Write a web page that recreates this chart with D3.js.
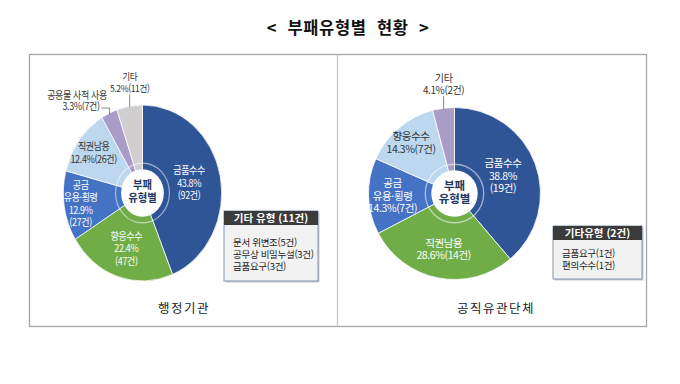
<!DOCTYPE html>
<html lang="ko">
<head>
<meta charset="UTF-8">
<script src="https://cdnjs.cloudflare.com/ajax/libs/d3/7.8.5/d3.min.js"></script>
<title>부패유형별 현황</title>
<style>
    body{
        margin: 0;
        background: #fff;
        font-family: 'Noto Sans CJK KR', 'Noto Sans', sans-serif;
    }
</style>
</head>
<body>
<svg id="chart"></svg>
<script>
// 행정기관
const adminTypes = ['금품수수', '향응수수', '공금 유용·횡령', '직권남용', '공용물 사적 사용', '기타']
const adminCounts = [92, 47, 27, 26, 7, 11]
const adminPcts = ['43.8%', '22.4%', '12.9%', '12.4%', '3.3%', '5.2%']
const adminEtcTitle = '기타 유형 (11건)'
const adminEtc = ['문서 위변조(5건)', '공무상 비밀누설(3건)', '금품요구(3건)']

// 공직유관단체
const publicTypes = ['금품수수', '직권남용', '공금 유용·횡령', '향응수수', '기타']
const publicCounts = [19, 14, 7, 7, 2]
const publicPcts = ['38.8%', '28.6%', '14.3%', '14.3%', '4.1%']
const publicEtcTitle = '기타유형 (2건)'
const publicEtc = ['금품요구(1건)', '편의수수(1건)']

const sliceColors = ['#2f5597', '#70ad47', '#4472c4', '#bdd7ee', '#a99cc9', '#d0cece']

const svg = d3.select('#chart')
    .attr('width', 680)
    .attr('height', 384)

//title
svg.append('text')
    .attr('x', 348)
    .attr('y', 34)
    .attr('text-anchor', 'middle')
    .attr('font-size', 16.5)
    .attr('font-weight', 700)
    .attr('letter-spacing', 0.6)
    .attr('fill', '#111')
    .style('white-space', 'pre')
    .text('<  부패유형별  현황  >')

//frame
svg.append('rect')
    .attr('x', 29.5).attr('y', 54.5)
    .attr('width', 617).attr('height', 272)
    .attr('fill', 'none')
    .attr('stroke', '#a6a6a6')
    .attr('stroke-width', 1.3)
svg.append('line')
    .attr('x1', 337.5).attr('x2', 337.5)
    .attr('y1', 55).attr('y2', 326)
    .attr('stroke', '#c8c8c8')
    .attr('stroke-width', 1.3)

function drawPanel(p) {
    const data = p.types.map((t, i) => ({type: t, count: p.counts[i], pct: p.pcts[i], i: i}))
    const pie = d3.pie().sort(null).value(d => d.count)
    const arcs = pie(data)
    const arc = d3.arc().innerRadius(0).outerRadius(p.r)

    const g = svg.append('g')
        .attr('transform', 'translate(' + p.cx + ',' + p.cy + ') scale(' + p.sx + ',1)')

    g.selectAll('.slice')
        .data(arcs)
        .enter()
        .append('path')
        .attr('class', 'slice')
        .attr('d', arc)
        .attr('fill', d => sliceColors[d.data.i])
        .attr('stroke', '#fff')
        .attr('stroke-width', 0.8)

    //hole in the middle
    g.append('circle')
        .attr('r', p.r * 0.34)
        .attr('fill', 'none')
        .attr('stroke', '#fff')
        .attr('stroke-opacity', 0.55)
        .attr('stroke-width', 1.3)
    g.append('circle')
        .attr('r', p.r * 0.27)
        .attr('fill', '#fff')

    g.selectAll('.center')
        .data(['부패', '유형별'])
        .enter()
        .append('text')
        .attr('text-anchor', 'middle')
        .attr('y', (d, i) => -4 + i * 13)
        .attr('font-size', 11.5)
        .attr('font-weight', 700)
        .attr('fill', '#1f3864')
        .text(d => d)

    const lh = 12.5
    arcs.forEach((d, i) => {
        const mid = (d.startAngle + d.endAngle) / 2
        const lr = p.labelR[i]
        if (lr !== null) {
            //label inside the slice
            let lines = d.data.type.split(' ')
            if (p.splitNum[i]) lines = lines.concat([d.data.pct, '(' + d.data.count + '건)'])
            else lines.push(d.data.pct + '(' + d.data.count + '건)')
            const x = Math.sin(mid) * lr * p.r
            const y = -Math.cos(mid) * lr * p.r
            lines.forEach((t, k) => {
                g.append('text')
                    .attr('x', x)
                    .attr('y', y + (k - (lines.length - 1) / 2) * lh + 4)
                    .attr('text-anchor', 'middle')
                    .attr('font-size', p.fs)
                    .attr('letter-spacing', -0.4)
                    .attr('fill', i === 3 ? '#333' : '#fff')
                    .text(t)
            })
        } else {
            //label outside with a leader line
            const ex = Math.sin(mid) * (p.r - 1)
            const ey = -Math.cos(mid) * (p.r - 1)
            const lines = [d.data.type, d.data.pct + '(' + d.data.count + '건)']
            if (p.leader[i] === 'up') {
                g.append('path')
                    .attr('d', 'M' + ex + ',' + ey + 'V' + (ey - 13))
                    .attr('stroke', '#777').attr('fill', 'none').attr('stroke-width', 0.9)
                lines.forEach((t, k) => {
                    g.append('text')
                        .attr('x', ex)
                        .attr('y', ey - 27 + k * 11.5)
                        .attr('text-anchor', 'middle')
                        .attr('font-size', p.fs - 0.5)
                        .attr('letter-spacing', -0.4)
                        .attr('fill', '#333')
                        .text(t)
                })
            } else {
                g.append('path')
                    .attr('d', 'M' + ex + ',' + ey + 'V' + (ey - 6) + 'H' + (ex - 9))
                    .attr('stroke', '#777').attr('fill', 'none').attr('stroke-width', 0.9)
                lines.forEach((t, k) => {
                    g.append('text')
                        .attr('x', ex - 3 - k * 8)
                        .attr('y', ey - 15.5 + k * 11.5)
                        .attr('text-anchor', 'end')
                        .attr('font-size', p.fs)
                        .attr('letter-spacing', -0.4)
                        .attr('fill', '#333')
                        .text(t)
                })
            }
        }
    })

    //callout box for 기타
    const b = p.box
    const box = svg.append('g').attr('transform', 'translate(' + b.x + ',' + b.y + ')')
    box.append('rect')
        .attr('x', 1.5).attr('y', 1.5)
        .attr('width', b.w).attr('height', b.h)
        .attr('fill', '#c9c9c9')
    box.append('rect')
        .attr('width', b.w).attr('height', b.h)
        .attr('fill', '#f2f2f2')
        .attr('stroke', '#8497b0')
        .attr('stroke-width', 1)
    box.append('rect')
        .attr('width', b.w).attr('height', 14)
        .attr('fill', '#3b3b3b')
    box.append('text')
        .attr('x', b.w / 2).attr('y', 11)
        .attr('text-anchor', 'middle')
        .attr('font-size', 10.5)
        .attr('font-weight', 700)
        .attr('fill', '#fff')
        .text(p.etcTitle)
    box.selectAll('.etc')
        .data(p.etc)
        .enter()
        .append('text')
        .attr('x', 9)
        .attr('y', (d, i) => 34.5 + i * 12 - p.boxShift)
        .attr('font-size', 9.5)
        .attr('letter-spacing', -0.3)
        .attr('fill', '#222')
        .text(d => d)

    //panel name
    svg.append('text')
        .attr('x', p.nameX).attr('y', 313)
        .attr('text-anchor', 'middle')
        .attr('font-size', 12.5)
        .attr('letter-spacing', 1.5)
        .attr('fill', '#222')
        .text(p.name)
}

drawPanel({
    name: '행정기관', nameX: 184,
    types: adminTypes, counts: adminCounts, pcts: adminPcts,
    etcTitle: adminEtcTitle, etc: adminEtc,
    cx: 142.5, cy: 193, r: 88, sx: 0.9, fs: 10,
    labelR: [0.6, 0.66, 0.79, 0.77, null, null],
    splitNum: [true, true, true, false, false, false],
    leader: [null, null, null, null, 'elbow', 'up'],
    box: {x: 224, y: 211, w: 94, h: 70}, boxShift: 0
})

drawPanel({
    name: '공직유관단체', nameX: 496,
    types: publicTypes, counts: publicCounts, pcts: publicPcts,
    etcTitle: publicEtcTitle, etc: publicEtc,
    cx: 454.5, cy: 193.5, r: 86, sx: 1, fs: 10.5,
    labelR: [0.6, 0.66, 0.72, 0.78, null],
    splitNum: [true, false, false, false, false],
    leader: [null, null, null, null, 'up'],
    box: {x: 553, y: 226, w: 89, h: 53}, boxShift: 4
})
</script>
</body>
</html>
